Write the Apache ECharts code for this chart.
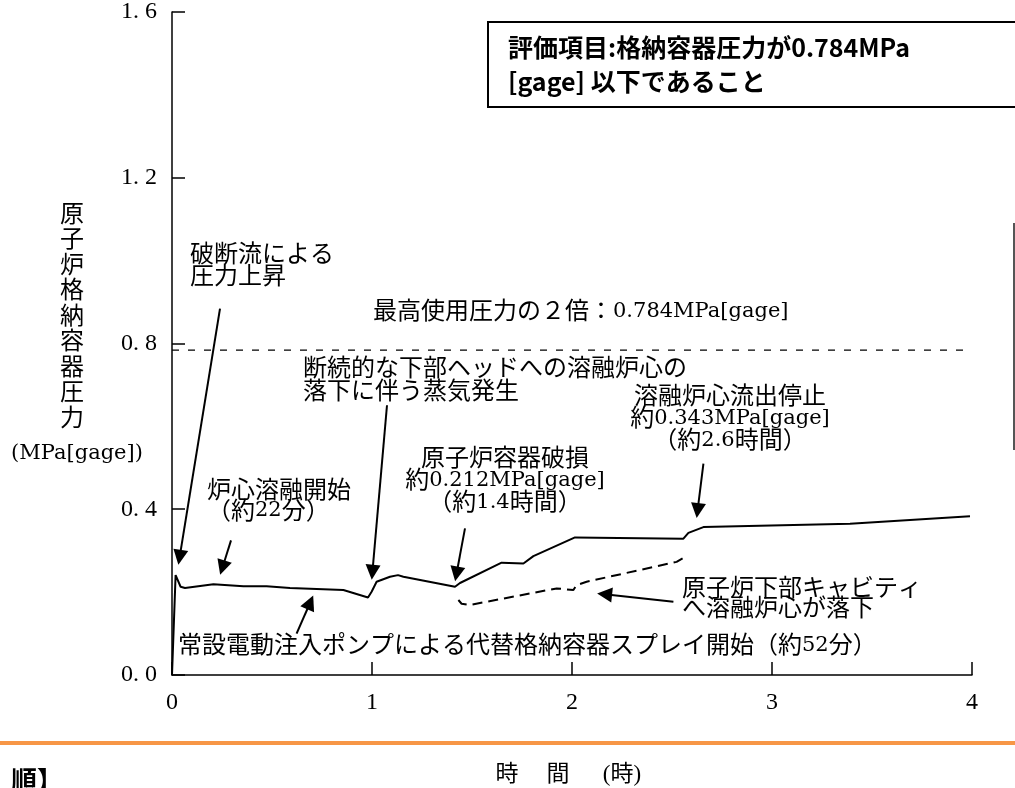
<!DOCTYPE html>
<html>
<head>
<meta charset="utf-8">
<script src="https://cdn.jsdelivr.net/npm/echarts@6/dist/echarts.min.js"></script>
<style>
html, body { margin: 0; padding: 0; background: #fff; }
#chart { width: 1015px; height: 788px; }
</style>
</head>
<body>
<div id="chart"></div>
<script>
// 格納容器圧力（実線）
let solidHours = [0, 0.018, 0.043, 0.065, 0.207, 0.357, 0.473, 0.59, 0.857, 0.98, 0.998, 1.023, 1.09, 1.13, 1.157, 1.415, 1.44, 1.648, 1.757, 1.807, 2.015, 2.557, 2.582, 2.657, 3.39, 3.99];
let solidPress = [0, 0.241, 0.213, 0.210, 0.219, 0.214, 0.214, 0.210, 0.205, 0.187, 0.201, 0.225, 0.237, 0.241, 0.237, 0.213, 0.222, 0.271, 0.269, 0.287, 0.332, 0.329, 0.343, 0.357, 0.365, 0.383];
// 原子炉下部キャビティ側（破線）
let dashHours = [1.432, 1.448, 1.49, 1.923, 2.007, 2.023, 2.073, 2.523, 2.573];
let dashPress = [0.181, 0.172, 0.169, 0.209, 0.205, 0.217, 0.225, 0.273, 0.287];
// 最高使用圧力の2倍
let limitHours = [0, 3.98];
let limitPress = [0.784, 0.784];
// 矢印 (始点 -> 終点)
let arrowFrom = [[0.24, 0.884], [0.295, 0.325], [1.075, 0.651], [1.465, 0.354], [2.657, 0.51], [0.623, 0.10], [2.507, 0.177]];
let arrowTo = [[0.038, 0.284], [0.252, 0.259], [1.002, 0.248], [1.4225, 0.244], [2.628, 0.397], [0.691, 0.175], [2.163, 0.195]];
// 軸目盛
let xTicks = [0, 1, 2, 3, 4];
let yTicks = [0, 0.4, 0.8, 1.2, 1.6];

function pairs(xs, ys) {
	let out = [];
	for (var i = 0; i < xs.length; i++) {
		out.push([xs[i], ys[i]]);
	}
	return out;
}

let serif = '"Liberation Serif", "Noto Sans CJK JP"';
let cjk = '24px "Noto Sans CJK JP"';
let latin = '21px "DejaVu Serif", "Noto Sans CJK JP"';

// 英数字だけ別フォントにする
function txt(x, y, text, align, lh, font) {
	let useRich = !font;
	return {
		type: 'text',
		x: x,
		y: y,
		silent: true,
		style: {
			text: useRich ? text.replace(/([!-~][ -~]*[!-~]|[!-~])/g, '{l|$1}') : text,
			font: font || cjk,
			fill: '#000',
			textAlign: align || 'left',
			textVerticalAlign: 'top',
			lineHeight: lh || 22,
			rich: useRich ? {
				l: { font: latin, fill: '#000', lineHeight: lh || 22, padding: [3, 0, 0, 0] }
			} : undefined
		}
	};
}

var myChart = echarts.init(document.getElementById('chart'));
var options = {
	animation: false,
	backgroundColor: '#fff',
	grid: { left: 172, right: 43, top: 11, bottom: 113 },
	xAxis: {
		type: 'value',
		min: xTicks[0],
		max: xTicks[xTicks.length - 1],
		interval: 1,
		splitLine: { show: false },
		axisLine: { show: true, lineStyle: { color: '#000', width: 1.5 } },
		axisTick: { show: true, inside: true, length: 13, lineStyle: { color: '#000', width: 1.5 } },
		axisLabel: { color: '#000', fontSize: 24, fontFamily: serif, margin: 16 }
	},
	yAxis: {
		type: 'value',
		min: yTicks[0],
		max: yTicks[yTicks.length - 1],
		interval: 0.4,
		splitLine: { show: false },
		axisLine: { show: true, lineStyle: { color: '#000', width: 1.5 } },
		axisTick: { show: true, inside: true, length: 13, lineStyle: { color: '#000', width: 1.5 } },
		axisLabel: {
			color: '#000', fontSize: 24, fontFamily: serif, margin: 15,
			formatter: function(v) { return v.toFixed(1).replace('.', '. '); }
		}
	},
	series: [{
			type: 'line',
			data: pairs(solidHours, solidPress),
			showSymbol: false,
			lineStyle: { color: '#000', width: 2 },
			markLine: {
				silent: true,
				symbol: ['none', 'triangle'],
				symbolSize: 15,
				label: { show: false },
				lineStyle: { color: '#000', width: 2, type: 'solid' },
				itemStyle: { color: '#000' },
				emphasis: { disabled: true },
				data: arrowFrom.map(function(p, i) {
					return [{ coord: p }, { coord: arrowTo[i] }];
				})
			}
		},
		{
			type: 'line',
			data: pairs(dashHours, dashPress),
			showSymbol: false,
			lineStyle: { color: '#000', width: 2, type: [10, 6] }
		},
		{
			type: 'line',
			data: pairs(limitHours, limitPress),
			showSymbol: false,
			lineStyle: { color: '#000', width: 1.2, type: [7, 9] }
		}
	],
	graphic: [
		{ type: 'rect', silent: true, shape: { x: 488, y: 22, width: 540, height: 85 }, style: { fill: '#fff', stroke: '#000', lineWidth: 2 } },
		txt(508, 30, '評価項目:格納容器圧力が0.784MPa\n[gage] 以下であること', 'left', 34, 'bold 25px "Noto Sans CJK JP"'),
		txt(72, 200, '原\n子\n炉\n格\n納\n容\n器\n圧\n力', 'center', 25.5),
		txt(77, 440, '(MPa[gage])', 'center', 24),
		txt(190, 242, '破断流による\n圧力上昇', 'left', 22),
		txt(373, 299, '最高使用圧力の２倍：0.784MPa[gage]', 'left', 22),
		txt(303, 355.5, '断続的な下部ヘッドへの溶融炉心の\n落下に伴う蒸気発生', 'left', 23),
		txt(730, 384, '溶融炉心流出停止\n約0.343MPa[gage]\n（約2.6時間）', 'center', 22),
		txt(505, 446, '原子炉容器破損\n約0.212MPa[gage]\n（約1.4時間）', 'center', 22),
		txt(207, 478, '炉心溶融開始\n（約22分）', 'left', 21),
		txt(682, 577, '原子炉下部キャビティ\nへ溶融炉心が落下', 'left', 20),
		txt(178, 633, '常設電動注入ポンプによる代替格納容器スプレイ開始（約52分）', 'left', 22),
		{ type: 'line', silent: true, shape: { x1: 1014, y1: 223, x2: 1014, y2: 450 }, style: { stroke: '#555', lineWidth: 2 } },
		{ type: 'rect', silent: true, shape: { x: 0, y: 741, width: 1015, height: 4 }, style: { fill: '#F79646' } },
		// x軸タイトル
		txt(507, 763, '時', 'center', 24, '23px ' + serif),
		txt(558, 763, '間', 'center', 24, '23px ' + serif),
		txt(622, 763, '(時)', 'center', 24, '23px ' + serif),
		txt(11, 767, '順】', 'left', 26, 'bold 26px "Noto Sans CJK JP"')
	]
};
myChart.setOption(options);
</script>
</body>
</html>
